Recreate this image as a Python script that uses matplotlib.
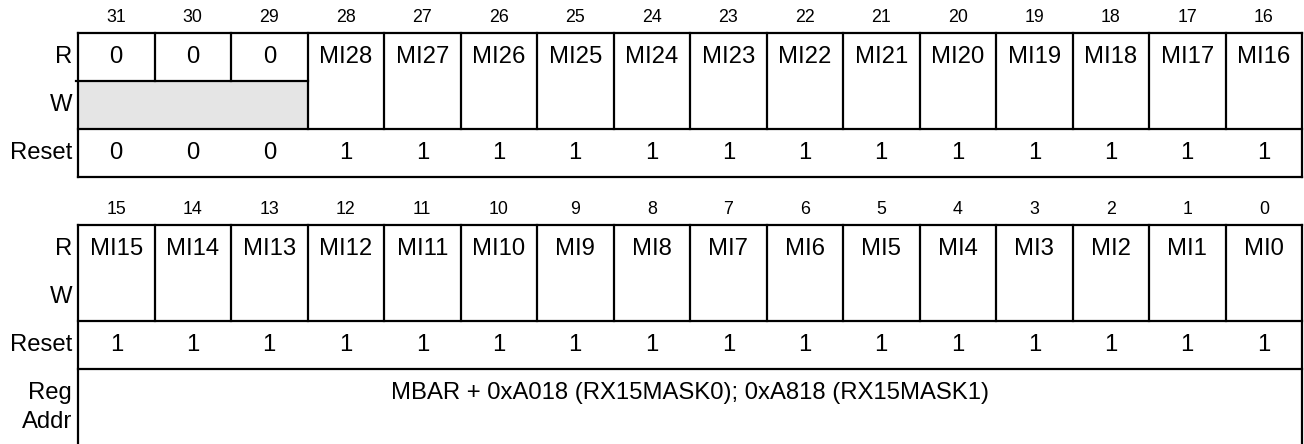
import matplotlib
matplotlib.use("Agg")
import matplotlib.pyplot as plt
from matplotlib.patches import Rectangle

plt.rcParams['font.family'] = ['Liberation Sans', 'DejaVu Sans']

# ---- data ----
bits_hi = [31, 30, 29, 28, 27, 26, 25, 24, 23, 22, 21, 20, 19, 18, 17, 16]
bits_lo = [15, 14, 13, 12, 11, 10, 9, 8, 7, 6, 5, 4, 3, 2, 1, 0]
read_hi = ['0', '0', '0', 'MI28', 'MI27', 'MI26', 'MI25', 'MI24', 'MI23',
           'MI22', 'MI21', 'MI20', 'MI19', 'MI18', 'MI17', 'MI16']
read_lo = ['MI15', 'MI14', 'MI13', 'MI12', 'MI11', 'MI10', 'MI9', 'MI8',
           'MI7', 'MI6', 'MI5', 'MI4', 'MI3', 'MI2', 'MI1', 'MI0']
reset_hi = ['0', '0', '0', '1', '1', '1', '1', '1', '1', '1', '1', '1', '1', '1', '1', '1']
reset_lo = ['1', '1', '1', '1', '1', '1', '1', '1', '1', '1', '1', '1', '1', '1', '1', '1']
# read-only (no write) bits, shown grey in W row
reserved_hi = [31, 30, 29]
reserved_lo = []
row_labels = ['R', 'W', 'Reset']
addr_label = ['Reg', 'Addr']
addr_text = 'MBAR + 0xA018 (RX15MASK0); 0xA818 (RX15MASK1)'

# ---- layout ----
W, H = 1304, 444
fig = plt.figure(figsize=(W / 100, H / 100), dpi=100)
ax = fig.add_axes([0, 0, 1, 1])
ax.set_xlim(0, W)
ax.set_ylim(H, 0)
ax.axis('off')

left = 78
right = 1302
colw = (right - left) / 16
lw = 1.6
fs = 17.2
fs_num = 12.8
lab_x = 72
grey = '#e5e5e5'


def line(x0, y0, x1, y1):
    ax.plot([x0, x1], [y0, y1], color='black', lw=lw, solid_capstyle='projecting')


def block(top, bits, reads, resets, reserved, num_y, bottom_extra=None):
    rh = 48
    r_bot = top + rh
    w_bot = top + 2 * rh
    res_bot = top + 3 * rh
    xs = [left + i * colw for i in range(17)]
    # grey reserved W cells
    res_idx = [bits.index(b) for b in reserved]
    if res_idx:
        i0, i1 = min(res_idx), max(res_idx)
        ax.add_patch(Rectangle((xs[i0], r_bot), xs[i1 + 1] - xs[i0], rh,
                               facecolor=grey, edgecolor='none', zorder=0))
        line(left - 2, r_bot, xs[i1 + 1], r_bot)
    # outer lines
    line(left, top, right, top)
    line(left, w_bot, right, w_bot)
    line(left, res_bot, right, res_bot)
    line(left, top, left, res_bot if bottom_extra is None else bottom_extra)
    line(right, top, right, res_bot if bottom_extra is None else bottom_extra)
    # vertical separators
    for i in range(1, 16):
        if i in res_idx and (i - 1) in res_idx:
            line(xs[i], top, xs[i], r_bot)
        else:
            line(xs[i], top, xs[i], w_bot)
    # texts
    for i in range(16):
        cx = (xs[i] + xs[i + 1]) / 2
        ax.text(cx, num_y, str(bits[i]), ha='center', va='center', fontsize=fs_num)
        ax.text(cx, top + rh / 2, reads[i], ha='center', va='center', fontsize=fs)
        ax.text(cx, top + 2.5 * rh, resets[i], ha='center', va='center', fontsize=fs)
    for k, lab in enumerate(row_labels):
        ax.text(lab_x, top + (k + 0.5) * rh, lab, ha='right', va='center', fontsize=fs)
    return res_bot


block(33, bits_hi, read_hi, reset_hi, reserved_hi, 17)
rb = block(225, bits_lo, read_lo, reset_lo, reserved_lo, 209, bottom_extra=H)

ax.text(lab_x, 393, addr_label[0], ha='right', va='center', fontsize=fs)
ax.text(lab_x, 422, addr_label[1], ha='right', va='center', fontsize=fs)
ax.text(690, 393, addr_text, ha='center', va='center', fontsize=fs)

fig.savefig('out.png', dpi=100, facecolor='white')
